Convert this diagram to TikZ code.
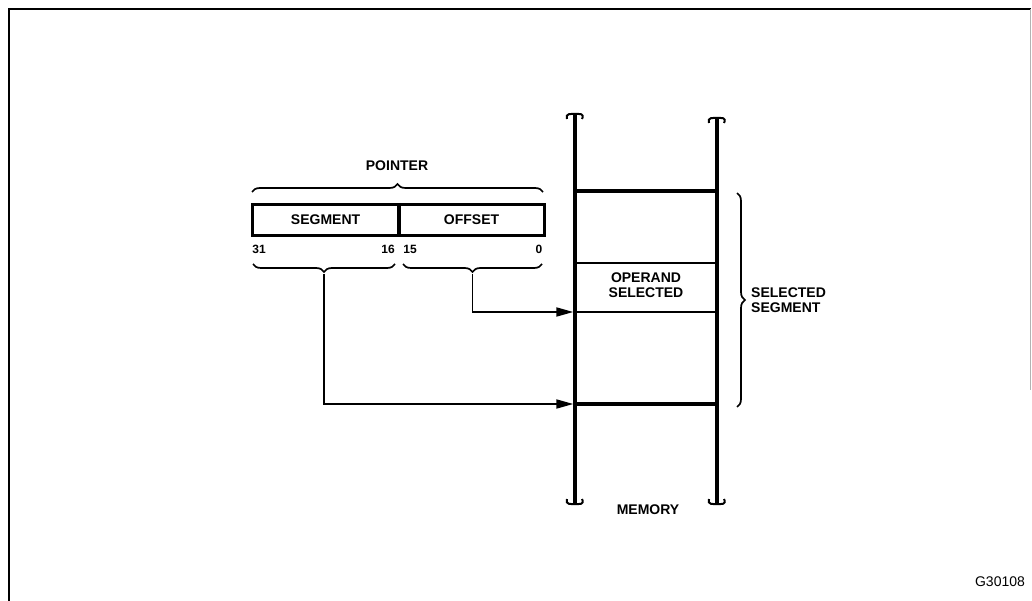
\documentclass[tikz,border=0pt]{standalone}
\usepackage{fontspec}
\setmainfont{Liberation Sans}
\usetikzlibrary{arrows.meta,positioning,calc,decorations.pathreplacing}
\tikzset{lbl/.style={font=\fontsize{14}{15}\selectfont\bfseries, inner sep=1pt, align=center}, bit/.style={font=\fontsize{12}{12}\selectfont\bfseries, inner sep=1pt}, field/.style={draw, line width=3.2pt, minimum height=31pt, inner sep=0pt}, wall/.style={line width=3.4pt}, cell/.style={line width=2.2pt}, brc/.style={decorate, decoration={brace, amplitude=8pt}, line width=1.7pt}, edge/.style={-{Triangle[length=17pt,width=9pt]}, line width=1.8pt}, curl/.style={line width=2pt}}
\newcommand{\topcurl}[1]{\draw[curl] ($(#1)+(-8,5)$) .. controls ($(#1)+(-10,-1)$) and ($(#1)+(-4,0)$) .. (#1) .. controls ($(#1)+(4,0)$) and ($(#1)+(10,-1)$) .. ($(#1)+(7,5)$);}
\newcommand{\botcurl}[1]{\draw[curl] ($(#1)+(-8,-5)$) .. controls ($(#1)+(-10,1)$) and ($(#1)+(-4,0)$) .. (#1) .. controls ($(#1)+(4,0)$) and ($(#1)+(10,1)$) .. ($(#1)+(7,-5)$);}

\begin{document}
\begin{tikzpicture}[x=1pt,y=-1pt]
\useasboundingbox (0,0) rectangle (1032,601);
% frame
\draw[line width=2.4pt] (9,601) -- (9,9) -- (1031,9);
\draw[line width=1pt, gray!60] (1030.5,9) -- (1030.5,390);
% pointer
\node[field, minimum width=146pt, anchor=north west] (seg) at (251,203) {};
\node[field, minimum width=146pt, anchor=north west] (off) at (397,203) {};
\draw[line width=2.2pt] (seg.north east) -- (seg.south east);
\node[lbl] at (seg.center) {SEGMENT};
\node[lbl] at (off.center) {OFFSET};
\node[lbl] (ptr) at (397,166) {POINTER};
\draw[brc] (252,192) -- (543,192);
\node[bit] (b31) at (259,249) {31};
\node[bit] (b16) at (388,249) {16};
\node[bit] (b15) at (410,249) {15};
\node[bit] (b0) at (539,249) {0};
\draw[brc] (395,264) -- (253,264) coordinate[pos=0.5] (segtip);
\draw[brc] (542,264) -- (403,264) coordinate[pos=0.5] (offtip);
% memory
\coordinate (ml1) at (575,114); \coordinate (ml2) at (575,504);
\coordinate (mr1) at (717,118); \coordinate (mr2) at (717,504);
\draw[wall] (ml1) -- (ml2); \draw[wall] (mr1) -- (mr2);
\topcurl{ml1} \topcurl{mr1} \botcurl{ml2} \botcurl{mr2}
\draw[wall] (575,191) -- (717,191);
\draw[cell] (575,263) -- (717,263);
\draw[cell] (575,312) coordinate (opnd) -- (717,312);
\draw[wall] (575,404) coordinate (base) -- (717,404);
\node[lbl] (sel) at (646,285) {OPERAND\\SELECTED};
\node[lbl] (mem) at (648,510) {MEMORY};
\draw[brc] (737,193) -- (737,407) coordinate[pos=0.5] (memtip);
\node[lbl, anchor=west, align=left] (selseg) at ($(memtip)+(13,0)$) {SELECTED\\SEGMENT};
% arrows
\draw[edge] ($(offtip)+(0,10)$) |- ([xshift=-1.7pt]opnd);
\draw[edge] ($(segtip)+(0,10)$) |- ([xshift=-1.7pt]base);
\node[font=\fontsize{14}{15}\selectfont, inner sep=0pt] (fig) at (1000,582) {G30108};
\end{tikzpicture}
\end{document}
